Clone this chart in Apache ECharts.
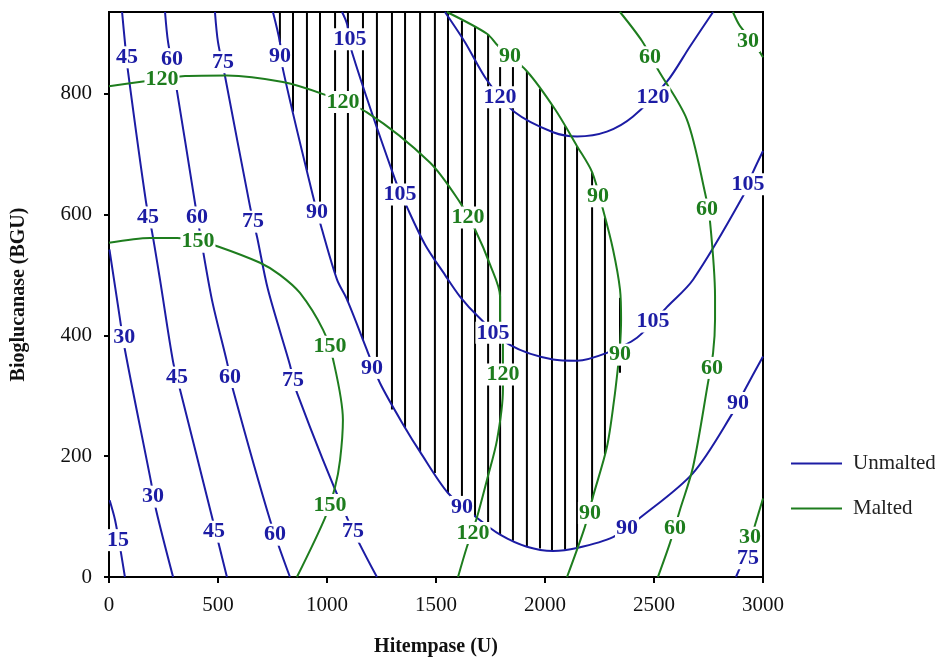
<!DOCTYPE html>
<html>
<head>
<meta charset="utf-8">
<script src="https://cdn.jsdelivr.net/npm/echarts@6/dist/echarts.min.js"></script>
<style>
  html, body { margin: 0; padding: 0; background: #fff; }
  #chart { width: 935px; height: 657px; }
</style>
</head>
<body>
<div id="chart"></div>
<script>
// axis ranges / ticks
const xTicks = [0, 500, 1000, 1500, 2000, 2500, 3000]
const yTicks = [0, 200, 400, 600, 800]
const yTop = 935

// Unmalted contours, [Hitempase, Bioglucanase]
const unmalted15 = [[73,0],[55,40],[28,94],[3,127]]
const unmalted30 = [[294,0],[216,111],[193,157],[73,376],[37,459],[2,542]]
const unmalted45 = [[541,0],[468,106],[326,310],[294,356],[234,492],[197,572],[170,620],[87,837],[73,885],[60,935]]
const unmalted60 = [[830,0],[739,94],[569,310],[541,356],[472,459],[417,570],[394,620],[303,824],[271,885],[257,935]]
const unmalted75 = [[1229,0],[1092,98],[862,305],[830,351],[729,476],[679,563],[647,613],[532,829],[500,885],[486,935]]
const unmalted90 = [[752,935],[784,885],[798,840],[936,630],[977,575],[1046,492],[1092,459],[1183,376],[1243,321],[1358,247],[1427,207],[1555,139],[1688,98],[1794,70],[1917,50],[2037,43],[2147,48],[2312,66],[2436,98],[2679,172],[2862,272],[2917,310],[3000,365]]
const unmalted105 = [[1069,935],[1092,915],[1115,868],[1312,658],[1367,612],[1450,550],[1541,500],[1610,464],[1693,431],[1839,384],[2037,360],[2147,358],[2284,371],[2422,396],[2560,447],[2679,492],[2908,630],[2954,670],[3000,705]]
const unmalted120 = [[1541,935],[1633,885],[1734,822],[1862,769],[2037,736],[2147,729],[2284,737],[2404,762],[2560,820],[2665,878],[2771,935]]
const unmalted75b = [[2876,0],[2894,15]]

// Malted contours
const malted30a = [[2862,935],[2894,912],[2954,886],[3000,860]]
const malted30b = [[3000,130],[2954,75]]
const malted60 = [[2344,935],[2445,887],[2518,840],[2651,757],[2734,636],[2757,588],[2780,464],[2780,426],[2771,371],[2748,322],[2679,182],[2619,111],[2573,56],[2518,0]]
const malted90 = [[1550,935],[1734,899],[1784,879],[1917,837],[2046,774],[2147,713],[2216,670],[2266,608],[2312,542],[2344,476],[2349,426],[2344,381],[2335,348],[2317,293],[2284,215],[2220,133],[2183,83],[2101,0]]
const malted120 = [[0,812],[156,820],[349,829],[541,830],[798,819],[982,799],[1183,769],[1472,686],[1610,620],[1679,575],[1748,517],[1794,464],[1794,426],[1807,388],[1807,310],[1780,227],[1734,161],[1688,99],[1642,50],[1601,0]]
const malted150 = [[0,553],[188,561],[312,561],[408,556],[500,547],[693,520],[784,500],[876,470],[982,409],[1028,360],[1073,260],[1060,194],[1037,149],[991,98],[862,0]]

// contour labels [x, y, text]
const unmaltedLabels = [
  [83,860,'45'],[289,857,'60'],[523,852,'75'],[784,862,'90'],[1106,890,'105'],
  [1794,794,'120'],[2495,794,'120'],[2931,650,'105'],
  [179,595,'45'],[404,595,'60'],[661,588,'75'],[954,603,'90'],[1335,633,'105'],
  [1761,404,'105'],[2495,423,'105'],
  [70,397,'30'],[312,330,'45'],[555,331,'60'],[844,326,'75'],[1206,346,'90'],[2885,288,'90'],
  [202,133,'30'],[41,61,'15'],[482,75,'45'],[761,70,'60'],[1119,75,'75'],[1619,116,'90'],[2376,81,'90'],[2931,31,'75']
]
const maltedLabels = [
  [243,824,'120'],[1073,786,'120'],[1839,862,'90'],[2482,860,'60'],[2931,887,'30'],
  [1647,595,'120'],[2243,630,'90'],[2743,608,'60'],
  [408,555,'150'],[1014,381,'150'],[1807,335,'120'],[2344,368,'90'],[2766,346,'60'],
  [1014,119,'150'],[1670,73,'120'],[2206,106,'90'],[2596,81,'60'],[2940,65,'30']
]

// hatched overlap: x of each stroke, its bottom and top
const hatchX    = [784,844,908,968,1037,1096,1165,1229,1298,1358,1427,1495,1555,1619,1679,1739,1794,1853,1917,1977,2032,2092,2147,2216,2275,2344]
const hatchLow  = [885,770,673,587,503,455,392,331,277,247,207,172,139,119,101,85,70,60,50,47,43,45,48,128,203,338]
const hatchHigh = [935,935,935,935,935,935,935,935,935,935,935,935,935,921,910,898,879,857,837,808,781,746,713,670,595,462]

const blue = '#1c1ca4'
const green = '#1e7d1e'
const serif = 'Liberation Serif'

const chart = echarts.init(document.getElementById('chart'))

function contour(name, color, data) {
  return {
    name: name, type: 'line', data: data, symbol: 'none', smooth: 0.3,
    lineStyle: {color: color, width: 2}, itemStyle: {color: color},
    z: 3, silent: true
  }
}

function labels(color, data) {
  return {
    type: 'scatter', data: data, symbolSize: 0, z: 5, silent: true,
    itemStyle: {opacity: 1},
    label: {
      show: true, position: 'inside', formatter: p => p.data[2],
      color: color, fontFamily: serif, fontWeight: 'bold', fontSize: 22,
      backgroundColor: '#fff', padding: [0, 1]
    }
  }
}

const series = [
  {
    type: 'custom', z: 1, silent: true,
    data: hatchX.map((x, i) => [x, hatchLow[i], hatchHigh[i]]),
    encode: {x: 0, y: [1, 2]},
    renderItem: (params, api) => {
      const a = api.coord([api.value(0), api.value(1)])
      const b = api.coord([api.value(0), api.value(2)])
      return {type: 'line', shape: {x1: a[0], y1: a[1], x2: b[0], y2: b[1]},
        style: {stroke: '#000', lineWidth: 2}}
    }
  }
]
;[unmalted15, unmalted30, unmalted45, unmalted60, unmalted75, unmalted90, unmalted105, unmalted120, unmalted75b]
  .forEach(d => series.push(contour('Unmalted', blue, d)))
;[malted30a, malted30b, malted60, malted90, malted120, malted150]
  .forEach(d => series.push(contour('Malted', green, d)))
series.push(labels(blue, unmaltedLabels))
series.push(labels(green, maltedLabels))

chart.setOption({
  animation: false,
  grid: {
    left: 109, right: 172, top: 12, bottom: 80, containLabel: false, outerBoundsMode: 'none',
    show: true, borderColor: '#000', borderWidth: 2
  },
  legend: {
    data: ['Unmalted', 'Malted'], orient: 'vertical', left: 786, top: 448,
    icon: 'rect', itemWidth: 51, itemHeight: 2, itemGap: 24,
    textStyle: {fontFamily: serif, fontSize: 21, color: '#222', padding: [0, 0, 0, 6]}
  },
  xAxis: {
    type: 'value', min: xTicks[0], max: xTicks[xTicks.length - 1], interval: 500,
    name: 'Hitempase (U)', nameLocation: 'middle', nameGap: 60,
    nameTextStyle: {fontFamily: serif, fontWeight: 'bold', fontSize: 20, color: '#111'},
    axisLine: {lineStyle: {color: '#000', width: 2}},
    axisTick: {length: 6, lineStyle: {color: '#000', width: 2}},
    axisLabel: {margin: 18, fontFamily: serif, fontSize: 21, color: '#111', formatter: v => String(v)},
    splitLine: {show: false}
  },
  yAxis: {
    type: 'value', min: yTicks[0], max: yTop, interval: 200,
    name: 'Bioglucanase (BGU)', nameLocation: 'middle', nameGap: 80,
    nameTextStyle: {fontFamily: serif, fontWeight: 'bold', fontSize: 20, color: '#111'},
    axisLine: {lineStyle: {color: '#000', width: 2}},
    axisTick: {length: 5, lineStyle: {color: '#000', width: 2}},
    axisLabel: {margin: 17, fontFamily: serif, fontSize: 21, color: '#111', showMaxLabel: false,
      formatter: v => yTicks.includes(v) ? String(v) : ''},
    splitLine: {show: false}
  },
  series: series
})
</script>
</body>
</html>
